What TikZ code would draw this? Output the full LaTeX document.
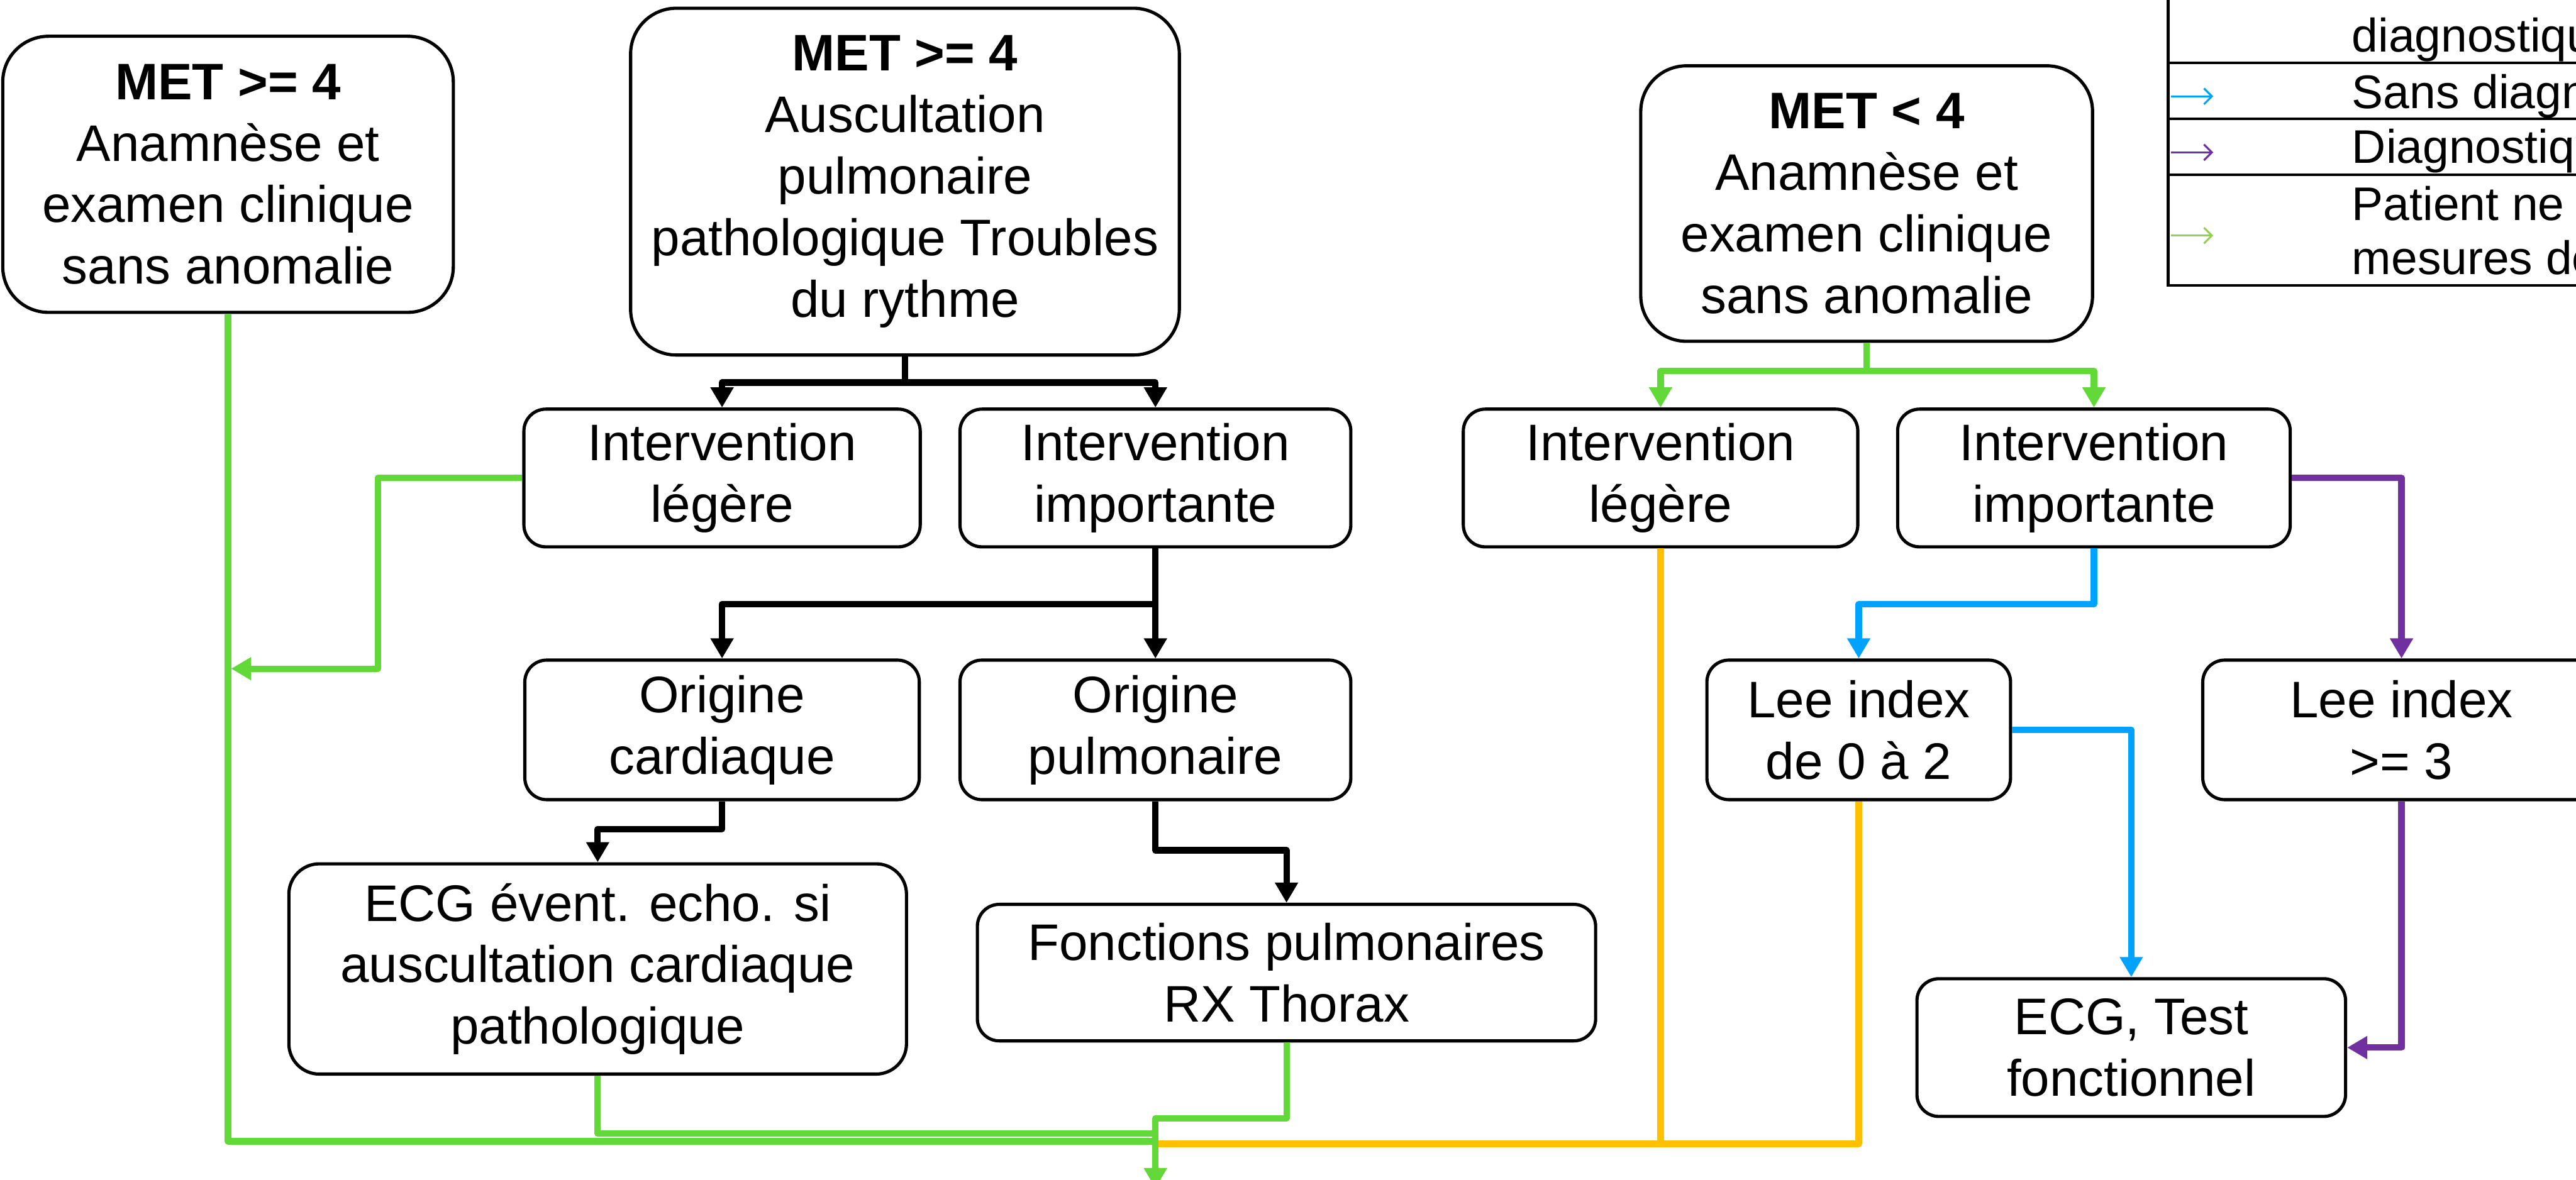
\documentclass[tikz,border=0pt]{standalone}
\usepackage{fontspec}
\setmainfont{Liberation Sans}
\usetikzlibrary{
    arrows.meta,
    positioning,
    calc
}

\definecolor{flowgreen}{RGB}{98,217,56}
\definecolor{leggreen}{RGB}{146,208,80}
\definecolor{flowyellow}{RGB}{255,192,0}
\definecolor{flowblue}{RGB}{0,162,255}
\definecolor{flowpurple}{RGB}{112,48,160}

\begin{document}
\begin{tikzpicture}[
        every node/.style={font=\fontsize{24pt}{28.7pt}\selectfont},
        metbox/.style={
            rectangle,
            rounded corners=0.75cm,
            draw=black,
            line width=1.5pt,
            inner sep=0pt,
            align=center
        },
        stepbox/.style={
            rectangle,
            rounded corners=0.36cm,
            draw=black,
            line width=1.5pt,
            minimum height=2.26cm,
            inner sep=0pt,
            align=center
        },
        arrow/.style={
            -{Triangle[length=0.33cm,width=0.36cm]},
            line width=3pt,
            line join=round
        },
        link/.style={
            line width=3pt,
            line join=round
        },
        legrow/.style={
            rectangle,
            draw=black,
            line width=1.2pt,
            minimum width=9cm,
            inner sep=0pt,
            outer sep=0pt
        },
        legtext/.style={
            anchor=base west,
            inner sep=0pt,
            font=\fontsize{22pt}{25pt}\selectfont
        },
        legarrow/.style={
            -{Straight Barb[length=0.13cm,width=0.26cm]},
            line width=0.9pt
        }
    ]

    \useasboundingbox (0,0) rectangle (42.25,-19.36);
    \clip (0,0) rectangle (42.25,-19.36);

    % top level
    \node[metbox, minimum width=7.39cm, minimum height=4.53cm] (metA) at (3.74,-2.86)
        {\textbf{MET >= 4}\\Anamnèse et\\examen clinique\\sans anomalie};
    \node[metbox, minimum width=9.0cm, minimum height=5.69cm,
          right=2.855cm of metA, yshift=-0.12cm] (metB)
        {\textbf{MET >= 4}\\Auscultation\\pulmonaire\\pathologique Troubles\\du rythme};
    \node[metbox, minimum width=7.41cm, minimum height=4.52cm,
          right=7.515cm of metB, yshift=-0.36cm] (metC)
        {\textbf{MET < 4}\\Anamnèse et\\examen clinique\\sans anomalie};

    % interventions
    \node[stepbox, minimum width=6.5cm, below=0.835cm of metB, xshift=-3cm] (legerB)
        {Intervention\\légère};
    \node[stepbox, minimum width=6.41cm, right=0.6cm of legerB] (lourdB)
        {Intervention\\importante};
    \node[stepbox, minimum width=6.47cm, below=1.06cm of metC, xshift=-3.38cm] (legerC)
        {Intervention\\légère};
    \node[stepbox, minimum width=6.44cm, right=0.6cm of legerC] (lourdC)
        {Intervention\\importante};

    % third row
    \node[stepbox, minimum width=6.47cm, minimum height=2.29cm, below=1.805cm of legerB] (cardio)
        {Origine\\cardiaque};
    \node[stepbox, minimum width=6.41cm, minimum height=2.29cm, below=1.805cm of lourdB] (pulmo)
        {Origine\\pulmonaire};
    \node[stepbox, minimum width=4.98cm, minimum height=2.29cm,
          below=1.805cm of legerC, xshift=3.25cm] (leelow)
        {Lee index\\de 0 à 2};
    \node[stepbox, minimum width=6.52cm, minimum height=2.29cm, right=3.1cm of leelow] (leehigh)
        {Lee index\\>= 3};

    % examinations
    \node[stepbox, rounded corners=0.5cm, minimum width=10.13cm, minimum height=3.45cm,
          below=1cm of cardio, xshift=-2.04cm] (ecgecho)
        {ECG évent. echo. si\\auscultation cardiaque\\pathologique};
    \node[stepbox, minimum width=10.14cm, minimum height=2.24cm,
          below=1.665cm of pulmo, xshift=2.15cm] (fonctions)
        {Fonctions pulmonaires\\RX Thorax};
    \node[stepbox, minimum width=7.03cm, below=2.885cm of leelow, xshift=4.47cm] (ecgtest)
        {ECG, Test\\fonctionnel};

    % merge points at the bottom
    \coordinate (exit) at ($(pulmo.south)+(0,-6.35)$);
    \coordinate (mergeY) at ($(exit)+(0,0.73)$);
    \coordinate (mergeA) at ($(exit)+(0,0.77)$);
    \coordinate (mergeE) at ($(exit)+(0,0.9)$);
    \coordinate (mergeF) at ($(exit)+(0,1.15)$);
    \coordinate (joinB1) at ($(metA.south)+(0.05,-5.82)$);

    % black
    \draw[arrow] (metB.south) -- ++(0,-0.425) -| (legerB.north);
    \draw[arrow] (metB.south) -- ++(0,-0.425) -| (lourdB.north);
    \draw[arrow] (lourdB.south) -- ++(0,-0.91) -| (cardio.north);
    \draw[arrow] (lourdB.south) -- (pulmo.north);
    \draw[arrow] (cardio.south) -- ++(0,-0.455) -| (ecgecho.north);
    \draw[arrow] (pulmo.south) -- ++(0,-0.805) -| (fonctions.north);

    % green, blue, purple
    \draw[arrow, flowgreen] (metC.south) -- ++(0,-0.46) -| (legerC.north);
    \draw[arrow, flowgreen] (metC.south) -- ++(0,-0.46) -| (lourdC.north);
    \draw[arrow, flowblue] (lourdC.south) -- ++(0,-0.91) -| (leelow.north);
    \draw[arrow, flowblue] (leelow.east) -| (ecgtest.north);
    \draw[arrow, flowpurple] (lourdC.east) -| (leehigh.north);
    \draw[arrow, flowpurple] (leehigh.south) |- (ecgtest.east);

    % yellow
    \draw[link, flowyellow] (legerC.south) |- (mergeY);
    \draw[link, flowyellow] (leelow.south) |- (mergeY);

    % green to the exit
    \draw[arrow, flowgreen] (legerB.west) -- ++(-2.37,0) |- (joinB1);
    \draw[link, flowgreen] (metA.south) |- (mergeA);
    \draw[link, flowgreen] (ecgecho.south) |- (mergeE);
    \draw[arrow, flowgreen] (fonctions.south) |- (mergeF) -- (exit);

    % legend
    \node[legrow, minimum height=1.63cm, anchor=north west] (legrowa) at (35.56,0.6) {};
    \node[legrow, minimum height=0.92cm, below=0pt of legrowa] (legrowb) {};
    \node[legrow, minimum height=0.92cm, below=0pt of legrowb] (legrowc) {};
    \node[legrow, minimum height=1.81cm, below=0pt of legrowc] (legrowd) {};

    \node[legtext] (legtexta) at ($(legrowa.south west)+(3.01,0.18)$) {diagnostique};
    \node[legtext] (legtextb) at ($(legrowb.south west)+(3.01,0.17)$) {Sans diagnostique};
    \node[legtext] (legtextc) at ($(legrowc.south west)+(3.01,0.19)$) {Diagnostique};
    \node[legtext] (legtextd) at ($(legrowd.south west)+(3.01,1.06)$) {Patient ne r};
    \node[legtext] (legtexte) at ($(legrowd.south west)+(3.01,0.18)$) {mesures de};

    \draw[legarrow, flowblue] ([xshift=0.05cm,yshift=-0.09cm]legrowb.west) -- ++(0.69,0);
    \draw[legarrow, flowpurple] ([xshift=0.05cm,yshift=-0.09cm]legrowc.west) -- ++(0.69,0);
    \draw[legarrow, leggreen] ([xshift=0.05cm,yshift=-0.09cm]legrowd.west) -- ++(0.69,0);

\end{tikzpicture}
\end{document}
